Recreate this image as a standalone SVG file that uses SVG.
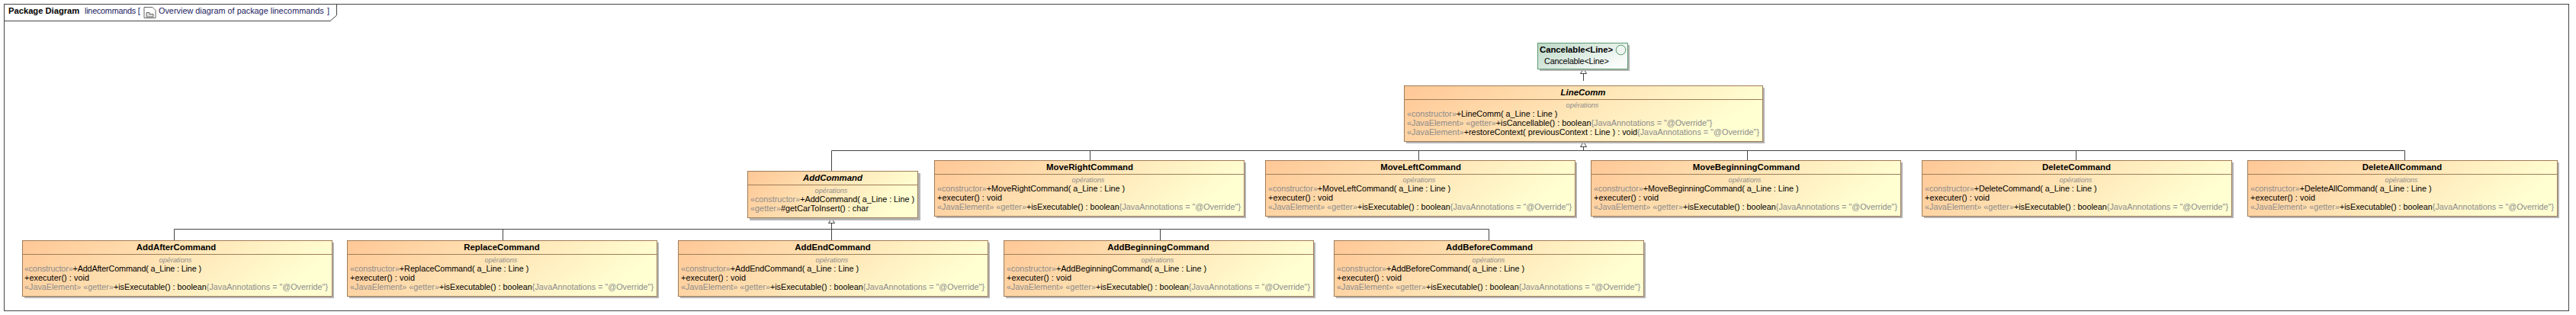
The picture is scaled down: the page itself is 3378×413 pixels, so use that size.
<svg xmlns="http://www.w3.org/2000/svg" width="3378" height="413" viewBox="0 0 3378 413">
<defs>
<linearGradient id="cg" x1="0" y1="0" x2="1" y2="0.25"><stop offset="0" stop-color="#ffc796"/><stop offset="1" stop-color="#ffffd2"/></linearGradient>
<linearGradient id="ig" x1="0" y1="0" x2="1" y2="0.6"><stop offset="0" stop-color="#bcd8c6"/><stop offset="1" stop-color="#f8fbf9"/></linearGradient>
<marker id="gen" viewBox="0 0 7.500 9" refX="7" refY="4.500" markerUnits="userSpaceOnUse" markerWidth="7.500" markerHeight="9" orient="auto"><path d="M0.500 0.500L7 4.500L0.500 8.500Z" fill="#fff" stroke="#444" stroke-width="1"/></marker>
</defs>
<style>
text{font-family:"Liberation Sans",Arial,sans-serif;font-size:10.800px;fill:#000}
.t{font-weight:bold;font-size:11.400px;text-anchor:middle}
.a{font-style:italic}
.o{font-style:italic;fill:#8c8c8c;font-size:9.200px;text-anchor:middle}
.g{fill:#8c8c8c}
.b{fill:url(#cg);stroke:#a07c58;stroke-width:1}
.s{fill:#b4b4b4}
.d{stroke:#a07c58;stroke-width:1}
.c{fill:none;stroke:#444;stroke-width:1}
.f{fill:none;stroke:#444;stroke-width:1}
.n{fill:#1a1a5e}
.h{font-weight:bold;font-size:11.200px}
.v{font-weight:bold;font-size:11.300px}
</style>
<g id="frame">
<rect x="5.500" y="5.500" width="3363" height="402" class="f"/>
<path d="M5.500 27.500H433L441.500 20V5.500" class="f"/>
<text x="11" y="18" class="h">Package Diagram</text>
<text x="111" y="18" class="n" textLength="72.700">linecommands [</text>
<g fill="none" stroke="#666"><path d="M189 9.500H200L204 13.500V23.500H189Z"/><path d="M192 16.500H196V18.500H201V22H192Z" fill="#ddd"/></g>
<text x="208" y="18" class="n" textLength="216.700">Overview diagram of package linecommands</text>
<text x="429" y="18" class="n">]</text>
</g>
<g id="connectors">
<path class="c" d="M2076.500 106V90" marker-end="url(#gen)"/>
<path class="c" d="M2076.500 197V186" marker-end="url(#gen)"/>
<path class="c" d="M1090.500 224V197.500H3153.500V210M1429.500 197.500V210M1860.500 197.500V211M2291.500 197.500V210M2722.500 197.500V210"/>
<path class="c" d="M1090.500 300V286" marker-end="url(#gen)"/>
<path class="c" d="M228.500 315V300.500H1952.500V315M659.500 300.500V315M1090.500 300.500V315M1521.500 300.500V315"/>
</g>
<g id="Cancelable">
<rect x="2019" y="59" width="118" height="34" class="s"/>
<rect x="2016.500" y="56.500" width="118" height="34" fill="url(#ig)" stroke="#5c9a70"/>
<circle cx="2125.500" cy="65.500" r="6.300" fill="#eef5f0" stroke="#5c9a70"/>
<text x="2019" y="69" class="v">Cancelable&lt;Line&gt;</text>
<text x="2025" y="84" textLength="84.700">Cancelable&lt;Line&gt;</text>
</g>
<g id="LineComm">
<rect x="1844" y="115" width="470" height="73" class="s"/>
<rect x="1841.500" y="112.500" width="470" height="73" class="b"/>
<path class="d" d="M1841.500 130.500H2311.500"/>
<text x="2076" y="125" class="t a">LineComm</text>
<text x="2075" y="141" class="o">opérations</text>
<text x="1845" y="153" textLength="197.300"><tspan class="g">«constructor»</tspan>+LineComm( a_Line : Line )</text>
<text x="1845" y="165" textLength="400.400"><tspan class="g">«JavaElement» «getter»</tspan>+isCancellable() : boolean<tspan class="g">{JavaAnnotations = "@Override"}</tspan></text>
<text x="1845" y="177" textLength="462"><tspan class="g">«JavaElement»</tspan>+restoreContext( previousContext : Line ) : void<tspan class="g">{JavaAnnotations = "@Override"}</tspan></text>
</g>
<g id="AddCommand">
<rect x="983" y="227" width="224" height="62" class="s"/>
<rect x="980.500" y="224.500" width="223" height="61" class="b"/>
<path class="d" d="M980.500 242.500H1203.500"/>
<text x="1092" y="237" class="t a">AddCommand</text>
<text x="1090" y="253" class="o">opérations</text>
<text x="984" y="265" textLength="215"><tspan class="g">«constructor»</tspan>+AddCommand( a_Line : Line )</text>
<text x="984" y="277" textLength="155"><tspan class="g">«getter»</tspan>#getCarToInsert() : char</text>
</g>
<g id="MoveRightCommand">
<rect x="1228" y="213" width="406" height="73" class="s"/><rect x="1225.500" y="210.500" width="406" height="73" class="b"/>
<path class="d" d="M1225.500 228.500H1631.500"/>
<text x="1429" y="223" class="t">MoveRightCommand</text><text x="1427" y="239" class="o">opérations</text>
<text x="1229" y="251" textLength="246"><tspan class="g">«constructor»</tspan>+MoveRightCommand( a_Line : Line )</text>
<text x="1229" y="263" textLength="85">+executer() : void</text>
<text x="1229" y="275" textLength="398"><tspan class="g">«JavaElement» «getter»</tspan>+isExecutable() : boolean<tspan class="g">{JavaAnnotations = "@Override"}</tspan></text>
</g>
<g id="MoveLeftCommand">
<rect x="1662" y="213" width="406" height="73" class="s"/><rect x="1659.500" y="210.500" width="406" height="73" class="b"/>
<path class="d" d="M1659.500 228.500H2065.500"/>
<text x="1863" y="223" class="t">MoveLeftCommand</text><text x="1861" y="239" class="o">opérations</text>
<text x="1663" y="251" textLength="239"><tspan class="g">«constructor»</tspan>+MoveLeftCommand( a_Line : Line )</text>
<text x="1663" y="263" textLength="85">+executer() : void</text>
<text x="1663" y="275" textLength="398"><tspan class="g">«JavaElement» «getter»</tspan>+isExecutable() : boolean<tspan class="g">{JavaAnnotations = "@Override"}</tspan></text>
</g>
<g id="MoveBeginningCommand">
<rect x="2089" y="213" width="406" height="73" class="s"/><rect x="2086.500" y="210.500" width="406" height="73" class="b"/>
<path class="d" d="M2086.500 228.500H2492.500"/>
<text x="2290" y="223" class="t">MoveBeginningCommand</text><text x="2288" y="239" class="o">opérations</text>
<text x="2090" y="251" textLength="268.500"><tspan class="g">«constructor»</tspan>+MoveBeginningCommand( a_Line : Line )</text>
<text x="2090" y="263" textLength="85">+executer() : void</text>
<text x="2090" y="275" textLength="398"><tspan class="g">«JavaElement» «getter»</tspan>+isExecutable() : boolean<tspan class="g">{JavaAnnotations = "@Override"}</tspan></text>
</g>
<g id="DeleteCommand">
<rect x="2523" y="213" width="406" height="73" class="s"/><rect x="2520.500" y="210.500" width="406" height="73" class="b"/>
<path class="d" d="M2520.500 228.500H2926.500"/>
<text x="2723" y="223" class="t">DeleteCommand</text><text x="2722" y="239" class="o">opérations</text>
<text x="2524" y="251" textLength="225.500"><tspan class="g">«constructor»</tspan>+DeleteCommand( a_Line : Line )</text>
<text x="2524" y="263" textLength="85">+executer() : void</text>
<text x="2524" y="275" textLength="398"><tspan class="g">«JavaElement» «getter»</tspan>+isExecutable() : boolean<tspan class="g">{JavaAnnotations = "@Override"}</tspan></text>
</g>
<g id="DeleteAllCommand">
<rect x="2950" y="213" width="406" height="73" class="s"/><rect x="2947.500" y="210.500" width="406" height="73" class="b"/>
<path class="d" d="M2947.500 228.500H3353.500"/>
<text x="3150" y="223" class="t">DeleteAllCommand</text><text x="3149" y="239" class="o">opérations</text>
<text x="2951" y="251" textLength="237.500"><tspan class="g">«constructor»</tspan>+DeleteAllCommand( a_Line : Line )</text>
<text x="2951" y="263" textLength="85">+executer() : void</text>
<text x="2951" y="275" textLength="398"><tspan class="g">«JavaElement» «getter»</tspan>+isExecutable() : boolean<tspan class="g">{JavaAnnotations = "@Override"}</tspan></text>
</g>
<g id="AddAfterCommand">
<rect x="32" y="318" width="406" height="73" class="s"/><rect x="29.500" y="315.500" width="406" height="73" class="b"/>
<path class="d" d="M29.500 333.500H435.500"/>
<text x="231" y="328" class="t">AddAfterCommand</text><text x="230" y="344" class="o">opérations</text>
<text x="32" y="356" textLength="232"><tspan class="g">«constructor»</tspan>+AddAfterCommand( a_Line : Line )</text>
<text x="32" y="368" textLength="85">+executer() : void</text>
<text x="32" y="380" textLength="398"><tspan class="g">«JavaElement» «getter»</tspan>+isExecutable() : boolean<tspan class="g">{JavaAnnotations = "@Override"}</tspan></text>
</g>
<g id="ReplaceCommand">
<rect x="458" y="318" width="406" height="73" class="s"/><rect x="455.500" y="315.500" width="406" height="73" class="b"/>
<path class="d" d="M455.500 333.500H861.500"/>
<text x="658" y="328" class="t">ReplaceCommand</text><text x="657" y="344" class="o">opérations</text>
<text x="459" y="356" textLength="234.300"><tspan class="g">«constructor»</tspan>+ReplaceCommand( a_Line : Line )</text>
<text x="459" y="368" textLength="85">+executer() : void</text>
<text x="459" y="380" textLength="398"><tspan class="g">«JavaElement» «getter»</tspan>+isExecutable() : boolean<tspan class="g">{JavaAnnotations = "@Override"}</tspan></text>
</g>
<g id="AddEndCommand">
<rect x="892" y="318" width="406" height="73" class="s"/><rect x="889.500" y="315.500" width="406" height="73" class="b"/>
<path class="d" d="M889.500 333.500H1295.500"/>
<text x="1092" y="328" class="t">AddEndCommand</text><text x="1091" y="344" class="o">opérations</text>
<text x="893" y="356" textLength="233"><tspan class="g">«constructor»</tspan>+AddEndCommand( a_Line : Line )</text>
<text x="893" y="368" textLength="85">+executer() : void</text>
<text x="893" y="380" textLength="398"><tspan class="g">«JavaElement» «getter»</tspan>+isExecutable() : boolean<tspan class="g">{JavaAnnotations = "@Override"}</tspan></text>
</g>
<g id="AddBeginningCommand">
<rect x="1319" y="318" width="406" height="73" class="s"/><rect x="1316.500" y="315.500" width="406" height="73" class="b"/>
<path class="d" d="M1316.500 333.500H1722.500"/>
<text x="1519" y="328" class="t">AddBeginningCommand</text><text x="1518" y="344" class="o">opérations</text>
<text x="1320" y="356" textLength="262"><tspan class="g">«constructor»</tspan>+AddBeginningCommand( a_Line : Line )</text>
<text x="1320" y="368" textLength="85">+executer() : void</text>
<text x="1320" y="380" textLength="398"><tspan class="g">«JavaElement» «getter»</tspan>+isExecutable() : boolean<tspan class="g">{JavaAnnotations = "@Override"}</tspan></text>
</g>
<g id="AddBeforeCommand">
<rect x="1752" y="318" width="406" height="73" class="s"/><rect x="1749.500" y="315.500" width="406" height="73" class="b"/>
<path class="d" d="M1749.500 333.500H2155.500"/>
<text x="1953" y="328" class="t">AddBeforeCommand</text><text x="1952" y="344" class="o">opérations</text>
<text x="1753" y="356" textLength="246"><tspan class="g">«constructor»</tspan>+AddBeforeCommand( a_Line : Line )</text>
<text x="1753" y="368" textLength="85">+executer() : void</text>
<text x="1753" y="380" textLength="398"><tspan class="g">«JavaElement» «getter»</tspan>+isExecutable() : boolean<tspan class="g">{JavaAnnotations = "@Override"}</tspan></text>
</g>
</svg>
